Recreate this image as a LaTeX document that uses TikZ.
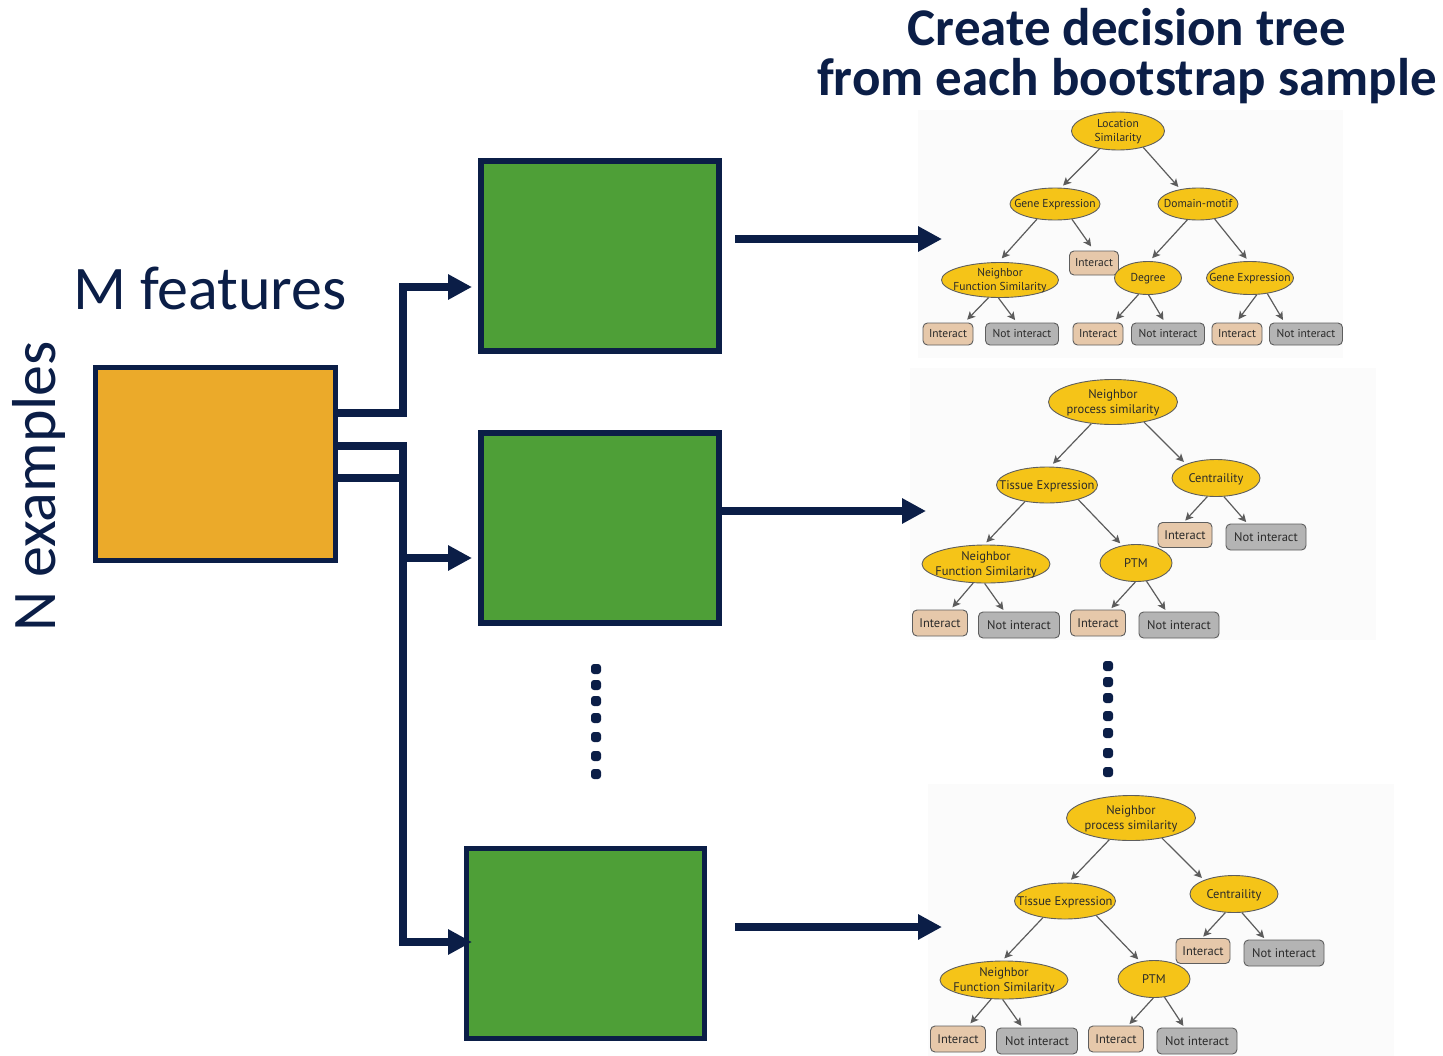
\documentclass[tikz,border=0pt]{standalone}
\usepackage{fontspec}
\setmainfont{Carlito}
\newfontfamily\treefont{PT Sans}
\usetikzlibrary{arrows.meta,calc,shapes.geometric}
\definecolor{navy}{HTML}{0B1E47}
\definecolor{orangebox}{HTML}{EBAA2A}
\definecolor{greenbox}{HTML}{4E9F37}
\definecolor{tyellow}{HTML}{F5C418}
\definecolor{tline}{HTML}{5E5E5E}
\definecolor{ttext}{HTML}{2A2A2A}
\definecolor{tanleaf}{HTML}{E6C8AA}
\definecolor{grayleaf}{HTML}{B4B4B4}
\definecolor{tarrowc}{HTML}{5C5C5C}
\definecolor{panel}{HTML}{FBFBFB}
\newcommand\ctxt[1]{\smash{\makebox[0pt]{\raisebox{-0.35em}{\begin{tabular}{@{}c@{}}#1\end{tabular}}}}}
\tikzset{
  dnode/.style={ellipse, draw=tline, line width=0.9pt, fill=tyellow, inner sep=0pt, text=ttext},
  leaf/.style={rectangle, rounded corners=4.5pt, draw=tline, line width=0.9pt, inner sep=0pt, text=ttext},
  yesleaf/.style={leaf, fill=tanleaf},
  noleaf/.style={leaf, fill=grayleaf},
  tarr/.style={draw=tarrowc, line width=1.2pt, -{Stealth[length=8pt,width=8pt,inset=2pt]}},
  fone/.style={font=\treefont\fontsize{11.5}{14}\selectfont},
  ftwo/.style={font=\treefont\fontsize{12.5}{15}\selectfont},
  obox/.style={rectangle, draw=navy, line width=5.5pt, fill=orangebox, inner sep=0pt},
  gbox/.style={rectangle, draw=navy, line width=5.8pt, fill=greenbox, inner sep=0pt, minimum width=238, minimum height=190},
  conn/.style={draw=navy, line width=7.5pt, -{Triangle[length=24pt,width=24pt]}},
  connplain/.style={draw=navy, line width=7.5pt},
  mainarr/.style={draw=navy, line width=7.5pt, -{Triangle[length=24pt,width=24pt]}},
  navytext/.style={text=navy, inner sep=0pt},
  dotmark/.style={fill=navy, rounded corners=3pt},
  ptree/.pic={
    \fill[panel] (910,368) rectangle (1376,640);
    \begin{scope}[every node/.append style=ftwo]
    \node[dnode, minimum width=129, minimum height=45] (-root) at (1113,402) {\ctxt{Neighbor\\process similarity}};
    \node[dnode, minimum width=101, minimum height=36] (-te) at (1047,485) {\ctxt{Tissue Expression}};
    \node[dnode, minimum width=88, minimum height=37] (-ce) at (1216,478) {\ctxt{Centraility}};
    \node[yesleaf, minimum width=54, minimum height=25] (-ci) at (1185,535) {\ctxt{Interact}};
    \node[noleaf, minimum width=80, minimum height=26] (-cn) at (1266,537) {\ctxt{Not interact}};
    \node[dnode, minimum width=128, minimum height=38] (-nfs) at (986,564) {\ctxt{Neighbor\\Function Similarity}};
    \node[dnode, minimum width=72, minimum height=37] (-ptm) at (1136,563) {\ctxt{PTM}};
    \node[yesleaf, minimum width=55, minimum height=26] (-l1) at (940,623) {\ctxt{Interact}};
    \node[noleaf, minimum width=81, minimum height=26] (-l2) at (1019,625) {\ctxt{Not interact}};
    \node[yesleaf, minimum width=55, minimum height=26] (-l3) at (1098,623) {\ctxt{Interact}};
    \node[noleaf, minimum width=80, minimum height=26] (-l4) at (1179,625) {\ctxt{Not interact}};
    \end{scope}
    \draw[tarr, shorten >=4pt] (-root.225) -- (-te.80);
    \draw[tarr, shorten >=3pt] (-root.327) -- (-ce.155);
    \draw[tarr, shorten >=3pt] (-te.217) -- (-nfs.95);
    \draw[tarr, shorten >=3pt] (-te.335) -- (-ptm.128);
    \draw[tarr, shorten >=2pt] (-ce.245) -- (-ci.95);
    \draw[tarr, shorten >=2pt] (-ce.293) -- (-cn.144);
    \draw[tarr, shorten >=3pt] (-nfs.236) -- (-l1.52);
    \draw[tarr, shorten >=2pt] (-nfs.266) -- (-l2.137);
    \draw[tarr, shorten >=2pt] (-ptm.268) -- (-l3.48);
    \draw[tarr, shorten >=2pt] (-ptm.300) -- (-l4.133);
  }
}
\begin{document}
\begin{tikzpicture}[x=1pt,y=-1pt]
\useasboundingbox (0,0) rectangle (1443,1055);
\fill[white] (0,0) rectangle (1443,1055);

% titles and labels
\node[navytext, anchor=base, font=\bfseries\fontsize{53}{53}\selectfont] (title1) at (1127,45) {Create decision tree};
\node[navytext, anchor=base, font=\bfseries\fontsize{53}{53}\selectfont] (title2) at (1127,95) {from each bootstrap sample};
\node[navytext, anchor=base west, font=\fontsize{62}{62}\selectfont] (mfeat) at (73,309) {M features};
\node[navytext, anchor=base west, rotate=90, font=\fontsize{62}{62}\selectfont] (nex) at (55,632) {N examples};

% boxes
\node[obox, minimum width=240, minimum height=193] (ob) at (215.5,464) {};
\node[gbox] (b1) at (600,256) {};
\node[gbox] (b2) at (600,528) {};
\node[gbox] (b3) at (585.5,943.5) {};

% connectors
\coordinate (j1) at (403,413);
\coordinate (j2) at (403,446);
\coordinate (j3) at (403,478);
\coordinate (tt1) at (472,287);
\coordinate (tt2) at (472,558);
\coordinate (tt3) at (472,942);
\draw[connplain] (ob.east |- j3) -- (j3);
\draw[conn] (ob.east |- j1) -- (j1) |- (tt1);
\draw[conn] (ob.east |- j2) -- (j2) |- (tt3);
\draw[conn] (j2 |- tt2) -- (tt2);

% dots
\foreach \yy in {669,685,701,718,737,756,774}
  \fill[dotmark] ($(596,\yy)+(-5,-5)$) rectangle ++(10,10);
\foreach \yy in {666,682,698,716,733,753,772}
  \fill[dotmark] ($(1108,\yy)+(-5,-5)$) rectangle ++(10,10);

% tree 1
\fill[panel] (918,110) rectangle (1343,358);
\begin{scope}[every node/.append style=fone]
\node[dnode, minimum width=93, minimum height=38] (ls) at (1118,131) {\ctxt{Location\\Similarity}};
\node[dnode, minimum width=90, minimum height=32] (ge1) at (1055,204) {\ctxt{Gene Expression}};
\node[dnode, minimum width=80, minimum height=32] (dm) at (1198,204) {\ctxt{Domain-motif}};
\node[yesleaf, minimum width=49, minimum height=24] (i0) at (1094,263) {\ctxt{Interact}};
\node[dnode, minimum width=117, minimum height=35] (nfs1) at (1000,280) {\ctxt{Neighbor\\Function Similarity}};
\node[dnode, minimum width=67, minimum height=33] (deg) at (1148,278) {\ctxt{Degree}};
\node[dnode, minimum width=87, minimum height=33] (ge2) at (1250,278) {\ctxt{Gene Expression}};
\node[yesleaf, minimum width=50, minimum height=22] (i1) at (948,334) {\ctxt{Interact}};
\node[noleaf, minimum width=73, minimum height=22] (n1) at (1022,334) {\ctxt{Not interact}};
\node[yesleaf, minimum width=50, minimum height=22] (i2) at (1098,334) {\ctxt{Interact}};
\node[noleaf, minimum width=73, minimum height=22] (n2) at (1168,334) {\ctxt{Not interact}};
\node[yesleaf, minimum width=50, minimum height=22] (i3) at (1237,334) {\ctxt{Interact}};
\node[noleaf, minimum width=73, minimum height=22] (n3) at (1306,334) {\ctxt{Not interact}};
\end{scope}
\draw[tarr, shorten >=3pt] (ls.224) -- (ge1.70);
\draw[tarr, shorten >=3pt] (ls.327) -- (dm.140);
\draw[tarr, shorten >=5pt] (ge1.220) -- (nfs1.95);
\draw[tarr, shorten >=5pt] (ge1.318) -- (i0.north);
\draw[tarr, shorten >=4pt] (dm.236) -- (deg.85);
\draw[tarr, shorten >=3pt] (dm.318) -- (ge2.95);
\draw[tarr, shorten >=4pt] (nfs1.237) -- (i1.35);
\draw[tarr, shorten >=3pt] (nfs1.265) -- (n1.114);
\draw[tarr, shorten >=4pt] (deg.240) -- (i2.37);
\draw[tarr, shorten >=3pt] (deg.272) -- (n2.105);
\draw[tarr, shorten >=4pt] (ge2.292) -- (i3.95);
\draw[tarr, shorten >=3pt] (ge2.318) -- (n3.152);

% trees 2 and 3
\pic (tb) at (0,0) {ptree};
\pic (tc) at (18,416) {ptree};

% main arrows
\coordinate (m1s) at (735,239);
\coordinate (m1e) at (942,239);
\coordinate (m2s) at (719,511);
\coordinate (m2e) at (926,511);
\coordinate (m3s) at (735,927);
\coordinate (m3e) at (942,927);
\draw[mainarr] (m1s) -- (m1e);
\draw[mainarr] (m2s) -- (m2e);
\draw[mainarr] (m3s) -- (m3e);
\end{tikzpicture}
\end{document}
